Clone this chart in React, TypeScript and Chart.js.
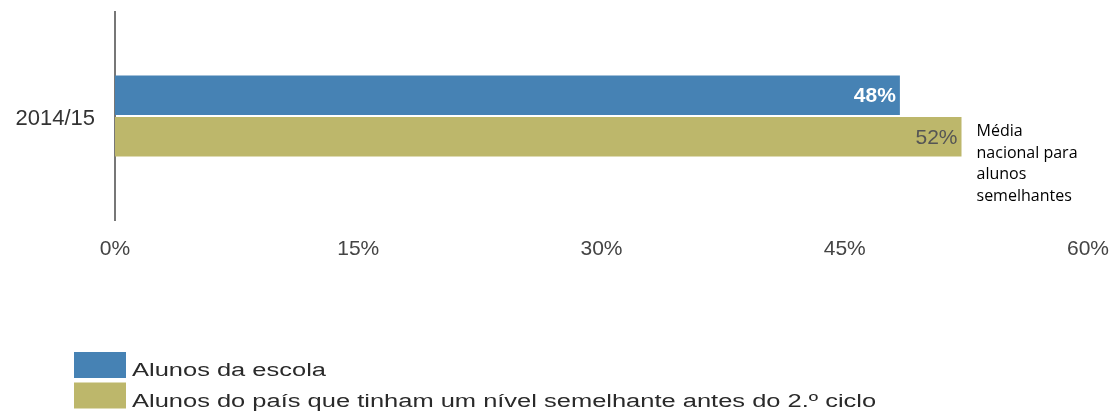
import React, { useEffect, useRef } from "react";
import { Chart, registerables } from "chart.js";

Chart.register(...registerables);

const categories = ["2014/15"];
const seriesNames = [
  "Alunos da escola",
  "Alunos do país que tinham um nível semelhante antes do 2.º ciclo",
];
const schoolValues = [48.4];
const nationalValues = [52.2];
const seriesColors = ["#4682B4", "#BDB76B"];
const valueLabelColors = ["#ffffff", "#555555"];
const xTicks = [0, 15, 30, 45, 60];
const noteLines = ["Média", "nacional para", "alunos", "semelhantes"];

const FONT = "'Liberation Sans', Arial, sans-serif";

const valueLabelPlugin = {
  id: "valueLabels",
  afterDatasetsDraw(chart: any) {
    const ctx = chart.ctx;
    ctx.save();
    chart.data.datasets.forEach((ds: any, di: number) => {
      const meta = chart.getDatasetMeta(di);
      meta.data.forEach((el: any, i: number) => {
        const v = ds.data[i];
        ctx.font = `${di === 0 ? "bold " : ""}21px ${FONT}`;
        ctx.fillStyle = valueLabelColors[di];
        ctx.textAlign = "right";
        ctx.textBaseline = "middle";
        ctx.fillText(`${Math.round(v)}%`, el.x - 4, el.y + 1);
      });
    });
    const meta2 = chart.getDatasetMeta(1);
    const el2 = meta2.data[0];
    if (el2) {
      ctx.font = `16px 'Open Sans', sans-serif`;
      ctx.fillStyle = "#000000";
      ctx.textAlign = "left";
      ctx.textBaseline = "alphabetic";
      noteLines.forEach((line, k) => {
        ctx.fillText(line, el2.x + 15, el2.y - 1 + k * 21.7);
      });
    }
    ctx.restore();
  },
};

const legendPlugin = {
  id: "customLegend",
  afterDraw(chart: any) {
    const ctx = chart.ctx;
    ctx.save();
    const x0 = 74;
    const y0 = 352;
    const rowH = 30.5;
    chart.data.datasets.forEach((ds: any, di: number) => {
      const y = y0 + di * rowH;
      ctx.fillStyle = ds.backgroundColor;
      ctx.fillRect(x0, y, 52, 26);
      ctx.save();
      ctx.translate(x0 + 58, y + 24);
      ctx.scale(1.415, 1);
      ctx.font = `18px ${FONT}`;
      ctx.fillStyle = "#2a2a2a";
      ctx.textAlign = "left";
      ctx.textBaseline = "alphabetic";
      ctx.fillText(ds.label, 0, 0);
      ctx.restore();
    });
    ctx.restore();
  },
};

function zeroPadding(axis: any) {
  axis.paddingLeft = 0;
  axis.paddingRight = 0;
  axis.paddingTop = 0;
  axis.paddingBottom = 0;
}

export default function App() {
  const canvasRef = useRef<HTMLCanvasElement | null>(null);

  useEffect(() => {
    if (!canvasRef.current) return;
    const chart = new Chart(canvasRef.current, {
      type: "bar",
      data: {
        labels: categories,
        datasets: [
          {
            label: seriesNames[0],
            data: schoolValues,
            backgroundColor: seriesColors[0],
            categoryPercentage: 0.4,
            barPercentage: 0.95,
          },
          {
            label: seriesNames[1],
            data: nationalValues,
            backgroundColor: seriesColors[1],
            categoryPercentage: 0.4,
            barPercentage: 0.95,
          },
        ],
      },
      options: {
        indexAxis: "y",
        animation: false,
        responsive: false,
        devicePixelRatio: 1,
        layout: { padding: { top: 12, left: 15, right: 27, bottom: 152 } },
        plugins: {
          legend: { display: false },
          tooltip: { enabled: false },
        },
        scales: {
          x: {
            min: 0,
            max: 60,
            afterBuildTicks: (axis: any) => {
              axis.ticks = xTicks.map((v) => ({ value: v }));
            },
            afterFit: (axis: any) => {
              axis.height = 42;
              zeroPadding(axis);
            },
            grid: { display: false, drawTicks: false },
            border: { display: false },
            ticks: {
              padding: 17,
              color: "#444444",
              font: { family: FONT, size: 21 },
              callback: (v: any) => `${v}%`,
              maxRotation: 0,
            },
          },
          y: {
            afterFit: (axis: any) => {
              axis.width = 100;
              zeroPadding(axis);
            },
            grid: { display: false, drawTicks: false },
            border: { display: true, color: "#777777", width: 2 },
            ticks: {
              padding: 20,
              labelOffset: 3,
              color: "#333333",
              font: { family: FONT, size: 22 },
            },
          },
        },
      },
      plugins: [valueLabelPlugin, legendPlugin],
    });
    return () => chart.destroy();
  }, []);

  return (
    <div style={{ position: "fixed", left: 0, top: 0, width: 1115, height: 414, background: "#fff" }}>
      <canvas ref={canvasRef} width={1115} height={414} />
    </div>
  );
}
